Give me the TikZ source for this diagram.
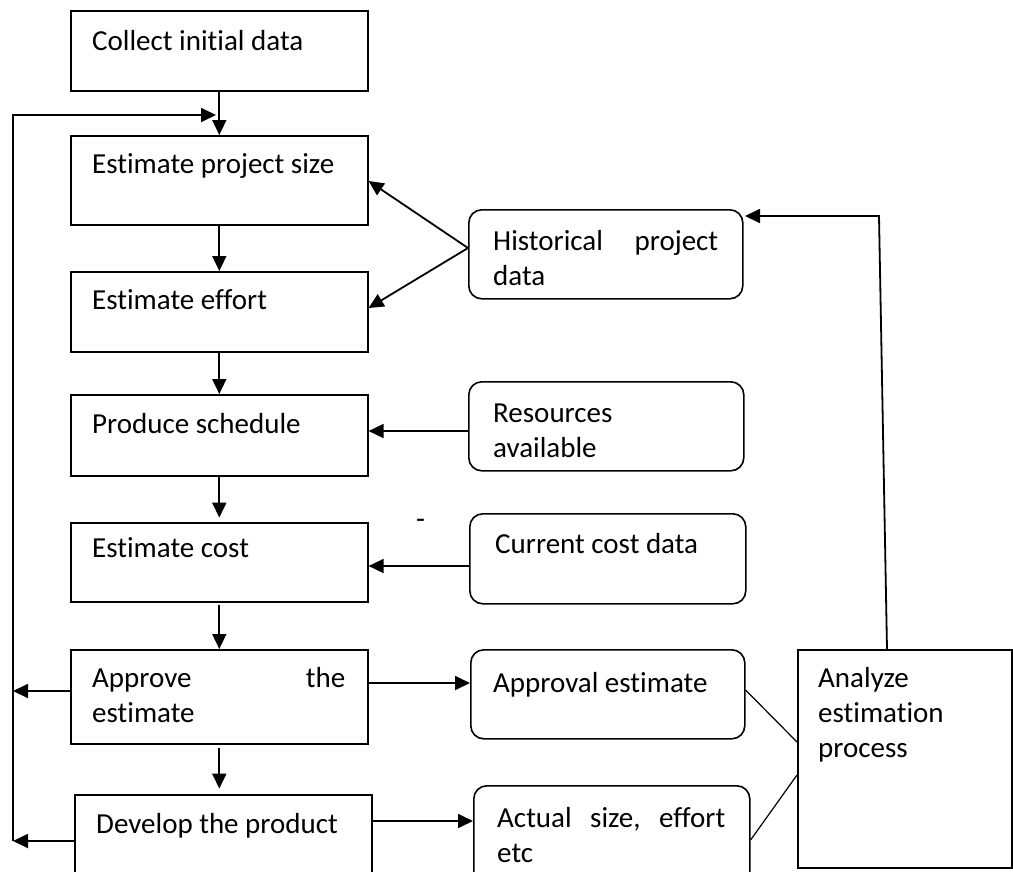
\documentclass[tikz,border=0pt]{standalone}
\usepackage{fontspec}
\setmainfont{Carlito}[Ligatures=NoCommon]
\usetikzlibrary{arrows.meta}
\begin{document}
\begin{tikzpicture}[x=1pt,y=-1pt,
  box/.style={draw, line width=1.6pt, inner sep=0pt, anchor=north west},
  rbox/.style={box, rounded corners=13pt},
  txt/.style={anchor=base west, inner sep=0pt, font=\fontsize{29}{35}\selectfont},
  arr/.style={line width=1.8pt, -{Triangle[length=15pt,width=14pt]}},
  ln/.style={line width=1.8pt},
  thin/.style={line width=1.2pt}]
\useasboundingbox (0,0) rectangle (1013,871);
\clip (0,0) rectangle (1013,871);
% left column boxes
\node[box, minimum width=297pt, minimum height=80pt] (collect) at (70,10) {};
\node[box, minimum width=297pt, minimum height=89pt] (size) at (70,135) {};
\node[box, minimum width=297pt, minimum height=80pt] (effort) at (70,271) {};
\node[box, minimum width=297pt, minimum height=81pt] (sched) at (70,394) {};
\node[box, minimum width=297pt, minimum height=79pt] (cost) at (70,522) {};
\node[box, minimum width=297pt, minimum height=94pt] (approve) at (70,649) {};
\node[box, minimum width=297pt, minimum height=100pt] (develop) at (74,794) {};
% right column boxes
\node[rbox, minimum width=274pt, minimum height=89pt] (hist) at (468,209) {};
\node[rbox, minimum width=275pt, minimum height=89pt] (res) at (468,381) {};
\node[rbox, minimum width=276pt, minimum height=90pt] (cur) at (469,513) {};
\node[rbox, minimum width=274pt, minimum height=89pt] (appr) at (470,649) {};
\node[rbox, minimum width=276pt, minimum height=100pt] (actual) at (473,785) {};
\node[box, minimum width=214pt, minimum height=218pt] (analyze) at (797,649) {};
% texts
\node[txt] (t1) at (92,50) {Collect initial data};
\node[txt] (t2) at (92,173) {Estimate project size};
\node[txt] (t3) at (92,309) {Estimate effort};
\node[txt] (t4) at (92,433) {Produce schedule};
\node[txt] (t5) at (92,557) {Estimate cost};
\node[txt] (t6) at (92,687) {\vtop{\hbox to 253pt{Approve\hfill the}\hbox{estimate}}};
\node[txt] (t7) at (96,833) {Develop the product};
\node[txt] (t8) at (493,250) {\vtop{\hbox to 225pt{Historical\hfill project}\hbox{data}}};
\node[txt] (t9) at (493,422) {\vtop{\hbox{Resources}\hbox{available}}};
\node[txt] (t10) at (495,553) {Current cost data};
\node[txt] (t11) at (493,692) {Approval estimate};
\node[txt] (t12) at (497,827) {\vtop{\hbox to 228pt{Actual\hfill size,\hfill effort}\hbox{etc}}};
\node[txt] (t13) at (818,687) {\vtop{\hbox{Analyze}\hbox{estimation}\hbox{process}}};
\node[txt] (dash) at (416,528) {-};
% main flow
\draw[arr] (collect.south) -- (size.north);
\draw[arr] (size.south) -- (effort.north);
\draw[arr] (effort.south) -- (sched.north);
\draw[arr] (sched.south) -- ([yshift=-41pt]sched.south);
\draw[arr] ([yshift=-2pt]cost.south) -- (approve.north);
\draw[arr] ([yshift=-3pt]approve.south) -- ([yshift=-44pt]approve.south);
% feedback loop on the left
\coordinate (lb) at (13,841);
\coordinate (lt) at (13,115);
\coordinate (lj) at (216,115);
\draw[arr] (approve.west |- 0,691) -- (lb |- 0,691);
\draw[arr] (develop.west |- 0,841) -- (lb);
\draw[arr] (lb) -- (lt) -- (lj);
% inputs from right
\draw[arr] (hist.west |- 0,248) -- (size.east |- 0,181);
\draw[arr] (hist.west |- 0,248) -- (effort.east |- 0,308);
\draw[arr] (res.west |- 0,431) -- (sched.east |- 0,431);
\draw[arr] (cur.west |- 0,566) -- (cost.east |- 0,566);
% outputs
\draw[arr] (approve.east |- 0,683) -- (appr.west |- 0,683);
\draw[arr] (develop.east |- 0,821) -- (actual.west |- 0,821);
\draw[thin] (appr.east |- 0,690) -- (analyze.west |- 0,742);
\draw[thin] (actual.east |- 0,840) -- (analyze.west |- 0,775);
% analyze back to historical data
\coordinate (hin) at (745,216);
\draw[arr] (analyze.north -| 887,0) -- (879,216) -- (hin);
\end{tikzpicture}
\end{document}
